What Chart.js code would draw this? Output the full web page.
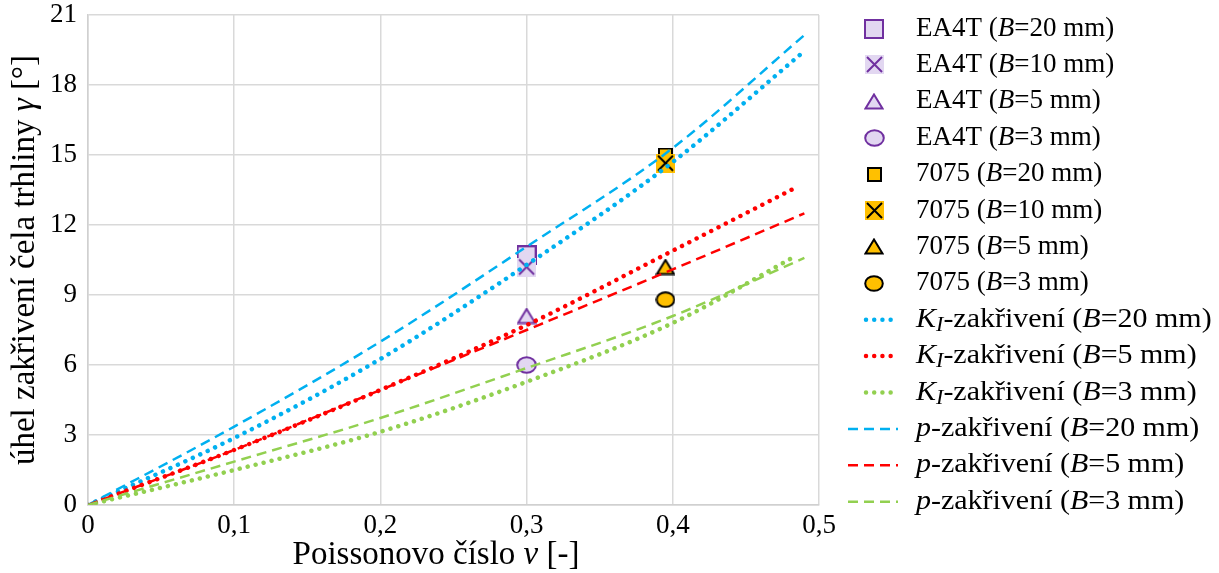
<!DOCTYPE html>
<html>
<head>
<meta charset="utf-8">
<script src="https://cdn.jsdelivr.net/npm/chart.js@4.4.1/dist/chart.umd.min.js"></script>
<style>
  html, body { margin: 0; padding: 0; background: #fff; }
  #wrap { width: 1219px; height: 573px; }
</style>
</head>
<body>
<div id="wrap"><canvas id="chart"></canvas></div>
<script>
// tick labels (Czech decimal comma)
const xTickLabels = ['0', '0,1', '0,2', '0,3', '0,4', '0,5'];

// axis titles, *..* = italic
const xTitle = 'Poissonovo číslo *v* [-]';
const yTitle = 'úhel zakřivení čela trhliny *γ* [°]';

// measured points: x = Poisson ratio of EA4T and 7075
const materialX = [0.3, 0.395];
const gammaB20 = [10.7, 15.0];
const gammaB10 = [10.2, 14.65];
const gammaB5 = [8.1, 10.2];
const gammaB3 = [6.0, 8.8];

// curves
const xKi20 = [0, 0.1, 0.2, 0.3, 0.4, 0.489];
const kiB20 = [0, 2.87, 6.26, 10.29, 14.7, 19.4];
const xKi5 = [0, 0.1, 0.2, 0.3, 0.4, 0.484];
const kiB5 = [0, 2.36, 4.93, 7.71, 10.9, 13.6];
const xKi3 = [0, 0.1, 0.2, 0.3, 0.4, 0.484];
const kiB3 = [0, 1.5, 3.14, 5.28, 7.8, 10.67];
const xP = [0, 0.1, 0.2, 0.3, 0.4, 0.49];
const pB20 = [0, 3.36, 7.0, 11.07, 15.3, 20.14];
const pB5 = [0, 2.36, 4.93, 7.5, 10.1, 12.5];
const pB3 = [0, 1.86, 3.73, 5.87, 8.1, 10.59];

// legend labels, *..* = italic, ~..~ = italic subscript
const labelsEA4T = ['EA4T (*B*=20 mm)', 'EA4T (*B*=10 mm)', 'EA4T (*B*=5 mm)', 'EA4T (*B*=3 mm)'];
const labels7075 = ['7075 (*B*=20 mm)', '7075 (*B*=10 mm)', '7075 (*B*=5 mm)', '7075 (*B*=3 mm)'];
const labelsKi = ['*K*~I~-zakřivení (*B*=20 mm)', '*K*~I~-zakřivení (*B*=5 mm)', '*K*~I~-zakřivení (*B*=3 mm)'];
const labelsP = ['*p*-zakřivení (*B*=20 mm)', '*p*-zakřivení (*B*=5 mm)', '*p*-zakřivení (*B*=3 mm)'];

const SERIF = '"Liberation Serif", "Times New Roman", serif';
const purple = '#7030A0', lavender = '#E2D7F1', gold = '#FFC000';
const blue = '#00B0F0', red = '#FF0000', green = '#92D050';

// marker pictures, used in the plot and in the legend
function marker(shape, fill, stroke, w, h) {
  const c = document.createElement('canvas');
  c.width = w; c.height = h;
  const g = c.getContext('2d');
  g.lineWidth = 2;
  g.fillStyle = fill;
  g.strokeStyle = stroke;
  if (shape === 'square') {
    g.fillRect(1, 1, w - 2, h - 2);
    g.strokeRect(1, 1, w - 2, h - 2);
  } else if (shape === 'cross') {
    g.fillRect(0, 0, w, h);
    g.beginPath();
    g.moveTo(2, 2); g.lineTo(w - 2, h - 2);
    g.moveTo(w - 2, 2); g.lineTo(2, h - 2);
    g.stroke();
  } else if (shape === 'triangle') {
    g.beginPath();
    g.moveTo(w / 2, 1.5); g.lineTo(w - 1.5, h - 1.5); g.lineTo(1.5, h - 1.5);
    g.closePath(); g.fill(); g.stroke();
  } else {
    g.beginPath();
    g.ellipse(w / 2, h / 2, w / 2 - 1.2, h / 2 - 1.2, 0, 0, Math.PI * 2);
    g.fill(); g.stroke();
  }
  return c;
}

function plain(s) { return s.replace(/[*~]/g, ''); }
function pts(xs, ys) { return xs.map((x, i) => ({ x: x, y: ys[i] })); }

// text with italic / subscript parts, drawn left-to-right from x
function richWidth(ctx, s, size) {
  let w = 0;
  s.split(/(\*[^*]+\*|~[^~]+~)/).filter(p => p).forEach(p => {
    ctx.font = fontFor(p, size);
    w += ctx.measureText(p.replace(/[*~]/g, '')).width;
  });
  return w;
}
function fontFor(p, size) {
  if (p[0] === '*') return 'italic ' + size + 'px ' + SERIF;
  if (p[0] === '~') return 'italic ' + Math.round(size * 0.75) + 'px ' + SERIF;
  return size + 'px ' + SERIF;
}
function drawRich(ctx, s, x, y, size) {
  s.split(/(\*[^*]+\*|~[^~]+~)/).filter(p => p).forEach(p => {
    const t = p.replace(/[*~]/g, '');
    ctx.font = fontFor(p, size);
    ctx.fillText(t, x, y + (p[0] === '~' ? size * 0.22 : 0));
    x += ctx.measureText(t).width;
  });
}

function markerSet(label, x, y, img) {
  return { label: plain(label), rich: label, data: [{ x: x, y: y }], showLine: false,
    pointStyle: img, pointRadius: 10, backgroundColor: 'transparent', borderColor: 'transparent' };
}
function curveSet(label, xs, ys, color, dotted) {
  return { label: plain(label), rich: label, data: pts(xs, ys), showLine: true, pointRadius: 0,
    borderColor: color, borderWidth: dotted ? 4.5 : 2.5,
    borderDash: dotted ? [0.01, 8.2] : [10, 6], borderCapStyle: dotted ? 'round' : 'butt',
    cubicInterpolationMode: 'monotone', fill: false };
}

const eaImgs = [marker('square', lavender, purple, 20, 20), marker('cross', lavender, purple, 19, 19),
  marker('triangle', lavender, purple, 20, 17), marker('circle', lavender, purple, 21, 18)];
const alImgs = [marker('square', gold, '#000', 15, 15), marker('cross', gold, '#000', 19, 19),
  marker('triangle', gold, '#000', 20, 17), marker('circle', gold, '#000', 20, 17)];
const ys = [gammaB20, gammaB10, gammaB5, gammaB3];

const datasets = [];
labelsEA4T.forEach((l, i) => datasets.push(markerSet(l, materialX[0], ys[i][0], eaImgs[i])));
labels7075.forEach((l, i) => datasets.push(markerSet(l, materialX[1], ys[i][1], alImgs[i])));
datasets.push(curveSet(labelsKi[0], xKi20, kiB20, blue, true));
datasets.push(curveSet(labelsKi[1], xKi5, kiB5, red, true));
datasets.push(curveSet(labelsKi[2], xKi3, kiB3, green, true));
datasets.push(curveSet(labelsP[0], xP, pB20, blue, false));
datasets.push(curveSet(labelsP[1], xP, pB5, red, false));
datasets.push(curveSet(labelsP[2], xP, pB3, green, false));
datasets.forEach((d, i) => { d.order = 100 - i; });

// legend and axis titles with italic parts
const richText = {
  id: 'richText',
  afterDraw(chart, args, o) {
    const ctx = chart.ctx;
    ctx.save();
    ctx.textBaseline = 'middle';
    ctx.fillStyle = '#000';
    chart.data.datasets.forEach((ds, i) => {
      const y = o.top + i * o.step;
      if (ds.showLine) {
        ctx.save();
        ctx.strokeStyle = ds.borderColor;
        ctx.lineWidth = ds.borderWidth;
        ctx.setLineDash(ds.borderDash);
        ctx.lineCap = ds.borderCapStyle;
        ctx.beginPath();
        ctx.moveTo(ds.borderWidth > 3 ? o.dotLeft : o.lineLeft, y);
        ctx.lineTo(o.lineRight, y);
        ctx.stroke();
        ctx.restore();
        // the curve entries are set a little wider in the original
        ctx.save();
        ctx.translate(o.textLeft, y);
        ctx.scale(o.stretch, 1);
        drawRich(ctx, ds.rich, 0, 0, o.size);
        ctx.restore();
      } else {
        const img = ds.pointStyle;
        ctx.drawImage(img, Math.round(o.symX - img.width / 2), Math.round(y - img.height / 2));
        drawRich(ctx, ds.rich, o.textLeft, y, o.size);
      }
    });
    // x title
    const area = chart.chartArea;
    let w = richWidth(ctx, xTitle, o.titleSize);
    drawRich(ctx, xTitle, o.xTitleX - w / 2, o.xTitleY, o.titleSize);
    // y title, rotated
    w = richWidth(ctx, yTitle, o.titleSize);
    ctx.translate(o.yTitleX, (area.top + area.bottom) / 2);
    ctx.rotate(-Math.PI / 2);
    drawRich(ctx, yTitle, -w / 2, 0, o.titleSize);
    ctx.restore();
  }
};

new Chart(document.getElementById('chart'), {
  type: 'scatter',
  data: { datasets: datasets },
  plugins: [richText],
  options: {
    responsive: true,
    maintainAspectRatio: false,
    animation: false,
    layout: { padding: { left: 0, right: 400, top: 15, bottom: 0 } },
    plugins: {
      legend: { display: false },
      tooltip: { enabled: false },
      richText: { top: 28.5, step: 36.4, symX: 874, lineLeft: 848, dotLeft: 866, lineRight: 898,
        textLeft: 916, size: 27, stretch: 1.11,
        titleSize: 33, xTitleX: 436, xTitleY: 555, yTitleX: 25 }
    },
    scales: {
      x: {
        type: 'linear', min: 0, max: 0.5,
        afterFit: s => { s.height = 68; s.paddingLeft = 0; s.paddingRight = 0; },
        grid: { color: '#D9D9D9', lineWidth: 1.5, drawTicks: false },
        border: { color: '#D0D0D0', width: 1.5 },
        ticks: { stepSize: 0.1, padding: 5, color: '#000', font: { family: SERIF, size: 27 },
          maxRotation: 0, callback: (v) => xTickLabels[Math.round(v * 10)] }
      },
      y: {
        type: 'linear', min: 0, max: 21,
        afterFit: s => { s.width = 88; s.paddingTop = 0; s.paddingBottom = 0; },
        grid: { color: '#D9D9D9', lineWidth: 1.5, drawTicks: false },
        border: { color: '#D0D0D0', width: 1.5 },
        ticks: { stepSize: 3, padding: 11, color: '#000', font: { family: SERIF, size: 27 } }
      }
    }
  }
});
</script>
</body>
</html>
